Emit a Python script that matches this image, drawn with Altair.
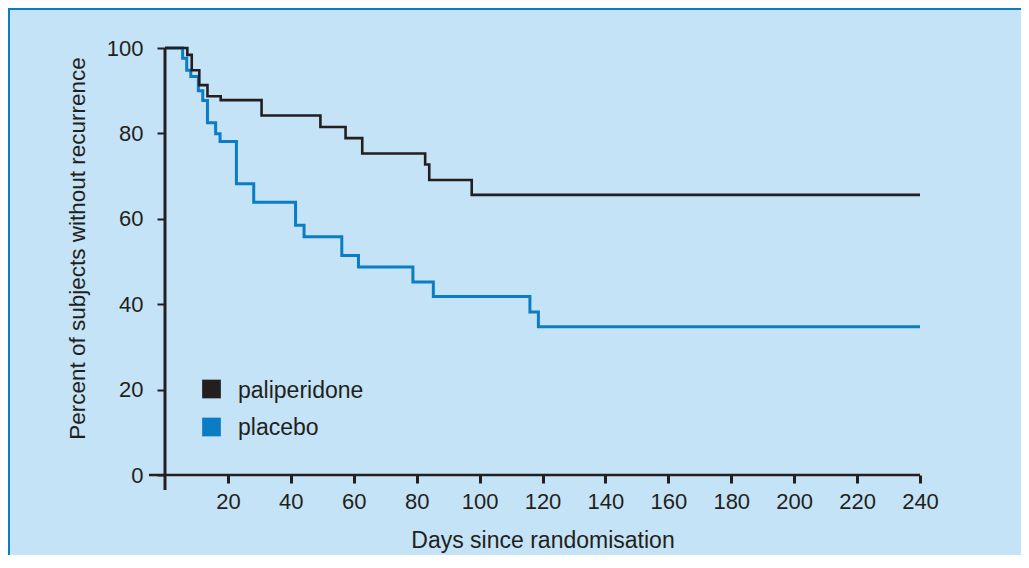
import altair as alt
import pandas as pd

# ---- data ----
pal_days = [0, 7.1, 8.5, 10.9, 13.5, 17.7, 30.7, 49.4, 57.4, 62.7, 82.7, 84.0, 97.5, 240]
pal_surv = [100, 98.4, 94.8, 91.3, 88.7, 87.8, 84.2, 81.5, 78.9, 75.3, 72.7, 69.1, 65.6, 65.6]

plc_days = [0, 5.6, 6.9, 8.2, 10.6, 12.0, 13.5, 16.1, 17.5, 22.7, 28.2, 41.5, 44.2,
            56.2, 61.5, 78.8, 85.3, 116.0, 118.7, 240]
plc_surv = [100, 97.6, 94.8, 93.3, 90.0, 87.7, 82.5, 79.9, 78.1, 68.2, 63.9, 58.5, 55.8,
            51.4, 48.7, 45.2, 41.8, 38.2, 34.7, 34.7]

series_names = ["paliperidone", "placebo"]
series_colors = ["#231f20", "#0a7dc4"]

x_ticks = [20, 40, 60, 80, 100, 120, 140, 160, 180, 200, 220, 240]
y_ticks = [0, 20, 40, 60, 80, 100]

BG = "#c4e3f6"
INK = "#231f20"
FONT = "Liberation Sans"
W, H = 755, 427
PAD = {"left": 157, "top": 40, "right": 101, "bottom": 80}

pal_df = pd.DataFrame({"day": pal_days, "surv": pal_surv, "series": series_names[0]})
plc_df = pd.DataFrame({"day": plc_days, "surv": plc_surv, "series": series_names[1]})
leg_df = pd.DataFrame({"series": series_names})

color_scale = alt.Scale(domain=series_names, range=series_colors)

x_enc = alt.X("day:Q", scale=alt.Scale(domain=[0, 240], nice=False),
              axis=alt.Axis(values=x_ticks, title="Days since randomisation",
                            domain=False, grid=False, tickSize=8, tickWidth=3,
                            tickColor=INK, labelColor=INK, labelFont=FONT,
                            labelFontSize=22, labelBaseline="alphabetic",
                            labelPadding=25, labelFlush=False, labelOverlap=False,
                            titleFont=FONT, titleFontSize=23,
                            titleColor=INK, titleFontWeight="normal",
                            titleBaseline="alphabetic", titleY=72))
y_enc = alt.Y("surv:Q", scale=alt.Scale(domain=[0, 100], nice=False),
              axis=alt.Axis(values=y_ticks, title="Percent of subjects without recurrence",
                            domain=False, grid=False, tickSize=8, tickWidth=2,
                            tickColor=INK, labelColor=INK, labelFont=FONT,
                            labelFontSize=22, labelPadding=14, labelFlush=False,
                            titleFont=FONT,
                            titleFontSize=22.5, titleColor=INK, titleFontWeight="normal",
                            titleAngle=270, titleBaseline="alphabetic",
                            titleX=-81, titleY=200, titleAlign="center"))

plc_line = alt.Chart(plc_df).mark_line(interpolate="step-after", strokeWidth=3).encode(
    x=x_enc, y=y_enc,
    color=alt.Color("series:N", scale=color_scale, legend=None))
pal_line = alt.Chart(pal_df).mark_line(interpolate="step-after", strokeWidth=2.6).encode(
    x="day:Q", y="surv:Q",
    color=alt.Color("series:N", scale=color_scale, legend=None))

one = alt.Data(values=[{}])
y_axis_line = alt.Chart(one).mark_rule(color=INK, strokeWidth=3).encode(
    x=alt.value(0), y=alt.value(0), y2=alt.value(H + 15))
x_axis_line = alt.Chart(one).mark_rule(color=INK, strokeWidth=2.5).encode(
    x=alt.value(-16), x2=alt.value(W), y=alt.value(H))
border_left = alt.Chart(one).mark_rule(color="#0a7dc4", strokeWidth=2).encode(
    x=alt.value(-PAD["left"] + 1), y=alt.value(-PAD["top"]), y2=alt.value(H + PAD["bottom"]))
border_top = alt.Chart(one).mark_rule(color="#0a7dc4", strokeWidth=2).encode(
    x=alt.value(-PAD["left"]), x2=alt.value(W + PAD["right"]), y=alt.value(-PAD["top"] + 1))

leg_base = alt.Chart(leg_df).transform_window(idx="row_number()").transform_calculate(
    py="341 + 38 * (datum.idx - 1)", ty="350 + 37 * (datum.idx - 1)")
leg_sq = leg_base.mark_square(size=350, opacity=1, filled=True).encode(
    x=alt.value(46.5),
    y=alt.Y("py:Q", scale=None, axis=None),
    color=alt.Color("series:N", scale=color_scale, legend=None))
leg_tx = leg_base.mark_text(align="left", baseline="alphabetic", font=FONT,
                            fontSize=23, color=INK).encode(
    x=alt.value(73),
    y=alt.Y("ty:Q", scale=None, axis=None),
    text="series:N")

chart = alt.layer(border_left, border_top, plc_line, pal_line, y_axis_line, x_axis_line,
                  leg_sq, leg_tx).properties(
    width=W, height=H, padding=PAD, background=BG,
    autosize=alt.AutoSizeParams(type="none"),
).configure_view(stroke=None)

chart.save("out.html", embed_options={"renderer": "svg", "actions": False})
